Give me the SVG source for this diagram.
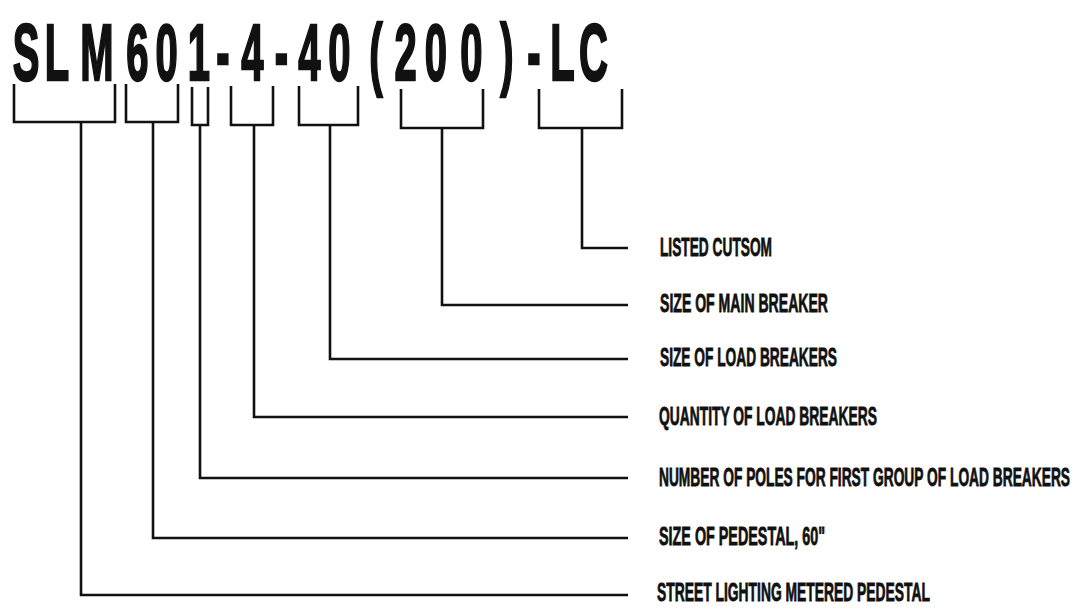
<svg xmlns="http://www.w3.org/2000/svg" width="1086" height="614" viewBox="0 0 1086 614">
  <style>
    .code { font-family: "Liberation Sans", Arial, sans-serif; font-weight: bold; font-size: 80px; fill: #111; stroke: #111; stroke-width: 2.4; text-anchor: middle; }
    .lbl { font-family: "Liberation Sans", Arial, sans-serif; font-weight: bold; font-size: 26px; fill: #111; stroke: #111; stroke-width: 0.8; }
    .br { fill: none; stroke: #111; stroke-width: 2.6; stroke-linejoin: miter; }
    .cn { fill: none; stroke: #111; stroke-width: 2.6; }
  </style>
  <rect width="1086" height="614" fill="#fff"/>
  <g id="code">
    <text class="code" transform="scale(0.5,1)" y="80" x="52 114 194 275 333 398 446 505 563 619 679 752 811 872 943 1014 1068 1125 1187">SLM601-4-40(200)-LC</text>
  </g>
  <g id="seg-slm">
    <path class="br" d="M14,84 V122 H115 V84"/>
    <text class="lbl" transform="scale(0.5,1)" x="1314" y="601" textLength="546" lengthAdjust="spacingAndGlyphs">STREET LIGHTING METERED PEDESTAL</text>
  </g>
  <g id="seg-60">
    <path class="br" d="M126,84 V122 H178 V84"/>
    <text class="lbl" transform="scale(0.5,1)" x="1318" y="545" textLength="332" lengthAdjust="spacingAndGlyphs">SIZE OF PEDESTAL, 60"</text>
  </g>
  <g id="seg-1">
    <path class="br" d="M192,87 V125 H208 V87"/>
    <text class="lbl" transform="scale(0.5,1)" x="1318" y="486" textLength="822" lengthAdjust="spacingAndGlyphs">NUMBER OF POLES FOR FIRST GROUP OF LOAD BREAKERS</text>
  </g>
  <g id="seg-4">
    <path class="br" d="M231,86 V125 H273 V86"/>
    <text class="lbl" transform="scale(0.5,1)" x="1318" y="425" textLength="436" lengthAdjust="spacingAndGlyphs">QUANTITY OF LOAD BREAKERS</text>
  </g>
  <g id="seg-40">
    <path class="br" d="M299,86 V125 H358 V86"/>
    <text class="lbl" transform="scale(0.5,1)" x="1320" y="366" textLength="354" lengthAdjust="spacingAndGlyphs">SIZE OF LOAD BREAKERS</text>
  </g>
  <g id="seg-200">
    <path class="br" d="M401,89 V128 H483 V89"/>
    <text class="lbl" transform="scale(0.5,1)" x="1320" y="312" textLength="336" lengthAdjust="spacingAndGlyphs">SIZE OF MAIN BREAKER</text>
  </g>
  <g id="seg-lc">
    <path class="br" d="M539,89 V128 H622 V89"/>
    <text class="lbl" transform="scale(0.5,1)" x="1320" y="256" textLength="224" lengthAdjust="spacingAndGlyphs">LISTED CUTSOM</text>
  </g>
  <g id="connectors">
    <path class="cn" d="M81,122 V595 H628"/>
    <path class="cn" d="M153,122 V538 H628"/>
    <path class="cn" d="M200,125 V478 H628"/>
    <path class="cn" d="M254,125 V417 H628"/>
    <path class="cn" d="M330,125 V359 H628"/>
    <path class="cn" d="M442,128 V305 H628"/>
    <path class="cn" d="M582,128 V248 H628"/>
  </g>
</svg>
